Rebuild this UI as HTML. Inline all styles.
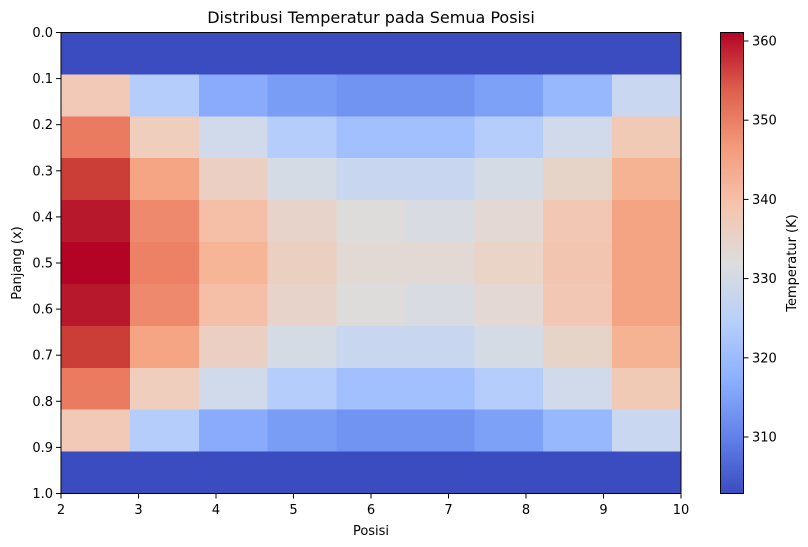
<!DOCTYPE html>
<html><head><meta charset="utf-8"><style>body{margin:0;background:#fff}svg{display:block}text{font-family:"DejaVu Sans","Liberation Sans",sans-serif;fill:#000}</style></head>
<body>
<svg width="808" height="547" viewBox="0 0 808 547" xmlns="http://www.w3.org/2000/svg">
<defs>
<linearGradient id="cw" x1="0" y1="1" x2="0" y2="0">
<stop offset="0" stop-color="#3b4cc0"/><stop offset="0.125" stop-color="#6282ea"/><stop offset="0.25" stop-color="#8db0fe"/><stop offset="0.375" stop-color="#b8d0f9"/><stop offset="0.5" stop-color="#dddddd"/><stop offset="0.625" stop-color="#f5c4ad"/><stop offset="0.75" stop-color="#f49a7b"/><stop offset="0.875" stop-color="#de604d"/><stop offset="1" stop-color="#b40426"/>
</linearGradient>
<g id="r1"><rect x="61" width="69.5" height="42.5" fill="#f2c9b7"/><rect x="129.89" width="69.5" height="42.5" fill="#b5cdfa"/><rect x="198.78" width="69.5" height="42.5" fill="#8aabfc"/><rect x="267.67" width="69.5" height="42.5" fill="#799cf5"/><rect x="336.56" width="69.5" height="42.5" fill="#7193f2"/><rect x="405.44" width="69.5" height="42.5" fill="#7193f2"/><rect x="474.33" width="69.5" height="42.5" fill="#7ea1f8"/><rect x="543.22" width="69.5" height="42.5" fill="#98b8fe"/><rect x="612.11" width="68.9" height="42.5" fill="#c9d7f0"/></g>
<g id="r2"><rect x="61" width="69.5" height="42.5" fill="#ea7b61"/><rect x="129.89" width="69.5" height="42.5" fill="#efcebd"/><rect x="198.78" width="69.5" height="42.5" fill="#d0daea"/><rect x="267.67" width="69.5" height="42.5" fill="#b5cdfa"/><rect x="336.56" width="69.5" height="42.5" fill="#a2c0fe"/><rect x="405.44" width="69.5" height="42.5" fill="#a2c0fe"/><rect x="474.33" width="69.5" height="42.5" fill="#b5cdfa"/><rect x="543.22" width="69.5" height="42.5" fill="#d0daea"/><rect x="612.11" width="68.9" height="42.5" fill="#f1cab6"/></g>
<g id="r3"><rect x="61" width="69.5" height="42.5" fill="#cb3e38"/><rect x="129.89" width="69.5" height="42.5" fill="#f5a584"/><rect x="198.78" width="69.5" height="42.5" fill="#eacfc2"/><rect x="267.67" width="69.5" height="42.5" fill="#d5dbe5"/><rect x="336.56" width="69.5" height="42.5" fill="#c8d7ef"/><rect x="405.44" width="69.5" height="42.5" fill="#c8d7ef"/><rect x="474.33" width="69.5" height="42.5" fill="#d5dbe5"/><rect x="543.22" width="69.5" height="42.5" fill="#e6d4c9"/><rect x="612.11" width="68.9" height="42.5" fill="#f5b394"/></g>
<g id="r4"><rect x="61" width="69.5" height="42.5" fill="#b8182b"/><rect x="129.89" width="69.5" height="42.5" fill="#ef896d"/><rect x="198.78" width="69.5" height="42.5" fill="#f5bfa7"/><rect x="267.67" width="69.5" height="42.5" fill="#e7d3c9"/><rect x="336.56" width="69.5" height="42.5" fill="#dddcdb"/><rect x="405.44" width="69.5" height="42.5" fill="#d8dbe2"/><rect x="474.33" width="69.5" height="42.5" fill="#e3d8d4"/><rect x="543.22" width="69.5" height="42.5" fill="#f2c7b3"/><rect x="612.11" width="68.9" height="42.5" fill="#f5a483"/></g>
<g id="r5"><rect x="61" width="69.5" height="42.5" fill="#b40426"/><rect x="129.89" width="69.5" height="42.5" fill="#ec8165"/><rect x="198.78" width="69.5" height="42.5" fill="#f6b597"/><rect x="267.67" width="69.5" height="42.5" fill="#ebd0c2"/><rect x="336.56" width="69.5" height="42.5" fill="#e2d9d5"/><rect x="405.44" width="69.5" height="42.5" fill="#e2d9d5"/><rect x="474.33" width="69.5" height="42.5" fill="#e9d4c7"/><rect x="543.22" width="69.5" height="42.5" fill="#f2c5b0"/><rect x="612.11" width="68.9" height="42.5" fill="#f5a483"/></g>
</defs>
<g shape-rendering="crispEdges">
<rect x="61" y="32.5" width="620" height="42.5" fill="#3b4cc0"/>
<use href="#r1" y="74.41"/>
<use href="#r2" y="116.32"/>
<use href="#r3" y="158.23"/>
<use href="#r4" y="200.14"/>
<use href="#r5" y="242.05"/>
<use href="#r4" y="283.95"/>
<use href="#r3" y="325.86"/>
<use href="#r2" y="367.77"/>
<use href="#r1" y="409.68"/>
<rect x="61" y="451.59" width="620" height="41.91" fill="#3b4cc0"/>
</g>
<rect x="61" y="32.5" width="620" height="461" fill="none" stroke="#000" stroke-width="1"/>
<text x="371" y="23" font-size="16" text-anchor="middle">Distribusi Temperatur pada Semua Posisi</text>
<g font-size="13" stroke-width="1">
<g stroke="#000">
<line x1="56" y1="32.5" x2="61" y2="32.5"/><line x1="56" y1="78.6" x2="61" y2="78.6"/><line x1="56" y1="124.7" x2="61" y2="124.7"/><line x1="56" y1="170.8" x2="61" y2="170.8"/><line x1="56" y1="216.9" x2="61" y2="216.9"/><line x1="56" y1="263" x2="61" y2="263"/><line x1="56" y1="309.1" x2="61" y2="309.1"/><line x1="56" y1="355.2" x2="61" y2="355.2"/><line x1="56" y1="401.3" x2="61" y2="401.3"/><line x1="56" y1="447.4" x2="61" y2="447.4"/><line x1="56" y1="493.5" x2="61" y2="493.5"/>
<line x1="61" y1="493.5" x2="61" y2="498.5"/><line x1="138.5" y1="493.5" x2="138.5" y2="498.5"/><line x1="216" y1="493.5" x2="216" y2="498.5"/><line x1="293.5" y1="493.5" x2="293.5" y2="498.5"/><line x1="371" y1="493.5" x2="371" y2="498.5"/><line x1="448.5" y1="493.5" x2="448.5" y2="498.5"/><line x1="526" y1="493.5" x2="526" y2="498.5"/><line x1="603.5" y1="493.5" x2="603.5" y2="498.5"/><line x1="681" y1="493.5" x2="681" y2="498.5"/>
<line x1="743.5" y1="437" x2="748.5" y2="437"/><line x1="743.5" y1="357.8" x2="748.5" y2="357.8"/><line x1="743.5" y1="278.6" x2="748.5" y2="278.6"/><line x1="743.5" y1="199.4" x2="748.5" y2="199.4"/><line x1="743.5" y1="120.2" x2="748.5" y2="120.2"/><line x1="743.5" y1="41" x2="748.5" y2="41"/>
</g>
<g text-anchor="end">
<text x="53" y="37">0.0</text><text x="53" y="83.1">0.1</text><text x="53" y="129.2">0.2</text><text x="53" y="175.3">0.3</text><text x="53" y="221.4">0.4</text><text x="53" y="267.5">0.5</text><text x="53" y="313.6">0.6</text><text x="53" y="359.7">0.7</text><text x="53" y="405.8">0.8</text><text x="53" y="451.9">0.9</text><text x="53" y="498">1.0</text>
</g>
<g text-anchor="middle">
<text x="61" y="514">2</text><text x="138.5" y="514">3</text><text x="216" y="514">4</text><text x="293.5" y="514">5</text><text x="371" y="514">6</text><text x="448.5" y="514">7</text><text x="526" y="514">8</text><text x="603.5" y="514">9</text><text x="681" y="514">10</text>
</g>
<text x="752" y="441.5">310</text><text x="752" y="362.3">320</text><text x="752" y="283.1">330</text><text x="752" y="203.9">340</text><text x="752" y="124.7">350</text><text x="752" y="45.5">360</text>
</g>
<text x="371" y="535" font-size="13" text-anchor="middle">Posisi</text>
<text transform="translate(21,263) rotate(-90)" font-size="13" text-anchor="middle">Panjang (x)</text>
<rect x="720.5" y="32.5" width="23" height="461" fill="url(#cw)" stroke="#000" stroke-width="1"/>
<text transform="translate(796,263) rotate(-90)" font-size="13" text-anchor="middle">Temperatur (K)</text>
</svg>
</body></html>
